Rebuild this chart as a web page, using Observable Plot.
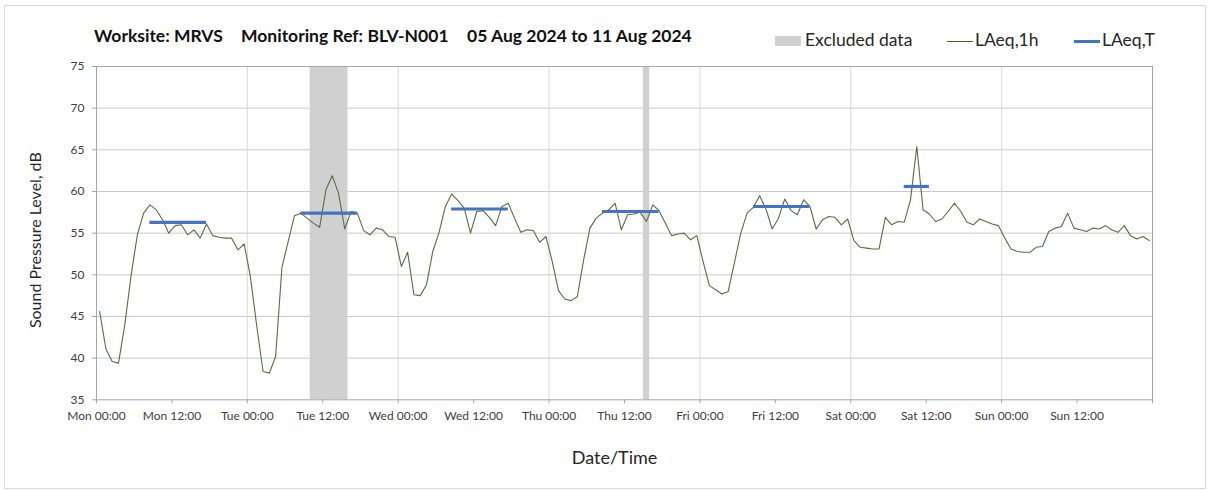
<!DOCTYPE html>
<html>
<head>
<meta charset="utf-8">
<script src="https://cdn.jsdelivr.net/npm/d3@7"></script>
<script src="https://cdn.jsdelivr.net/npm/@observablehq/plot@0.6"></script>
<style>
  body { margin: 0; background: #fff; }
  #wrap { position: relative; width: 1208px; height: 490px; overflow: hidden; font-family: Lato, "Open Sans", sans-serif; }
  #border { position: absolute; left: 4px; top: 5px; width: 1202px; height: 484px; border: 1px solid #d9d9d9; box-sizing: border-box; pointer-events: none; }
  #header { position: relative; height: 52px; }
  .t { position: absolute; top: 25px; line-height: 22px; font-size: 17.5px; font-weight: bold; color: #111; white-space: nowrap; }
  .lg { position: absolute; top: 29px; line-height: 22px; font-size: 17.5px; color: #262626; white-space: nowrap; }
  .sw { position: absolute; }
  #chart svg { overflow: visible; }
</style>
</head>
<body>
<div id="wrap">
  <div id="header"></div>
  <div id="chart"></div>
  <div id="border"></div>
</div>
<script>
// ---- Data ----
const titleParts = ["Worksite: MRVS", "Monitoring Ref: BLV-N001", "05 Aug 2024 to 11 Aug 2024"];
const legendLabels = ["Excluded data", "LAeq,1h", "LAeq,T"];
const xLabel = "Date/Time";
const yLabel = "Sound Pressure Level, dB";

// hourly LAeq,1h values (Mon 05 Aug 00:00 ... Sun 11 Aug 23:00)
const mon = [45.6, 41.1, 39.6, 39.4, 44.0, 49.9, 54.8, 57.4, 58.4, 57.8, 56.6, 55.0, 55.9, 56.0, 54.8, 55.4, 54.4, 56.1, 54.7, 54.5, 54.4, 54.4, 53.0, 53.7];
const tue = [49.7, 43.8, 38.4, 38.2, 40.2, 50.9, 54.0, 57.1, 57.4, 56.8, 56.2, 55.7, 60.2, 61.9, 59.8, 55.5, 57.6, 57.4, 55.3, 54.8, 55.6, 55.4, 54.6, 54.5];
const wed = [51.0, 52.7, 47.6, 47.5, 48.8, 52.8, 55.1, 58.2, 59.7, 58.9, 58.0, 55.0, 57.6, 57.7, 56.9, 55.9, 58.2, 58.6, 56.8, 55.1, 55.4, 55.3, 53.9, 54.6];
const thu = [51.6, 48.1, 47.1, 46.9, 47.4, 51.8, 55.6, 56.8, 57.4, 57.8, 58.6, 55.4, 57.2, 57.3, 57.5, 56.4, 58.4, 57.7, 56.2, 54.7, 54.9, 55.0, 54.2, 54.7];
const fri = [51.6, 48.7, 48.2, 47.7, 48.0, 51.5, 55.0, 57.4, 58.1, 59.5, 57.9, 55.5, 56.8, 59.1, 57.7, 57.2, 59.0, 58.2, 55.5, 56.6, 57.0, 56.9, 56.0, 56.7];
const sat = [54.1, 53.3, 53.2, 53.1, 53.1, 56.9, 56.0, 56.4, 56.3, 59.0, 65.4, 57.8, 57.3, 56.4, 56.7, 57.6, 58.6, 57.6, 56.3, 56.0, 56.7, 56.4, 56.1, 55.9];
const sun = [54.4, 53.1, 52.8, 52.7, 52.7, 53.3, 53.4, 55.2, 55.6, 55.8, 57.4, 55.6, 55.4, 55.2, 55.6, 55.5, 55.9, 55.4, 55.1, 55.9, 54.7, 54.3, 54.6, 54.1];

// excluded data periods
const excludedFrom = ["2024-08-06T10:00Z", "2024-08-08T15:00Z"];
const excludedTo   = ["2024-08-06T16:00Z", "2024-08-08T16:00Z"];

// LAeq,T periods and values
const periodFrom = ["2024-08-05T08:00Z", "2024-08-06T08:00Z", "2024-08-07T08:00Z", "2024-08-08T08:00Z", "2024-08-09T08:00Z", "2024-08-10T08:00Z"];
const periodTo   = ["2024-08-05T18:00Z", "2024-08-06T18:00Z", "2024-08-07T18:00Z", "2024-08-08T18:00Z", "2024-08-09T18:00Z", "2024-08-10T13:00Z"];
const laeqT      = [56.3, 57.4, 57.9, 57.6, 58.2, 60.6];

// axes
const xStart = "2024-08-05T00:00Z";
const xEnd = "2024-08-12T00:00Z";
const xTickLabels = ["Mon 00:00", "Mon 12:00", "Tue 00:00", "Tue 12:00", "Wed 00:00", "Wed 12:00", "Thu 00:00", "Thu 12:00", "Fri 00:00", "Fri 12:00", "Sat 00:00", "Sat 12:00", "Sun 00:00", "Sun 12:00", ""];
const yTicks = [35, 40, 45, 50, 55, 60, 65, 70, 75];

// ---- Build ----
const H = 3600e3;
const t0 = new Date(xStart).getTime();
const hourly = [...mon, ...tue, ...wed, ...thu, ...fri, ...sat, ...sun].map((v, i) => ({ t: new Date(t0 + i * H + H / 2), v }));
const excluded = excludedFrom.map((d, i) => ({ a: new Date(d), b: new Date(excludedTo[i]) }));
const periods = periodFrom.map((d, i) => ({ a: new Date(new Date(d).getTime() + H / 2), b: new Date(new Date(periodTo[i]).getTime() - H / 2), v: laeqT[i] }));
const xTicks = xTickLabels.map((_, i) => new Date(t0 + i * 12 * H));
const labelOf = new Map(xTicks.map((d, i) => [d.getTime(), xTickLabels[i]]));
const dayGrid = xTicks.filter((d, i) => i % 2 === 0 && i > 0 && i < xTicks.length - 1);

// header
const header = document.getElementById("header");
const titleX = [94, 241, 467];
titleParts.forEach((s, i) => {
  const el = document.createElement("div");
  el.className = "t"; el.style.left = titleX[i] + "px"; el.textContent = s;
  header.appendChild(el);
});
const swatches = [
  { left: 775, top: 36, w: 26, h: 10, bg: "#d0d0d0" },
  { left: 947, top: 41, w: 26, h: 1, bg: "#4F6228" },
  { left: 1074, top: 40, w: 26, h: 3, bg: "#4472C4" }
];
const legendX = [805, 975, 1102];
legendLabels.forEach((s, i) => {
  const sw = swatches[i];
  const d = document.createElement("div");
  d.className = "sw";
  Object.assign(d.style, { left: sw.left + "px", top: sw.top + "px", width: sw.w + "px", height: sw.h + "px", background: sw.bg });
  header.appendChild(d);
  const el = document.createElement("div");
  el.className = "lg"; el.style.left = legendX[i] + "px"; el.textContent = s;
  header.appendChild(el);
});

const chart = Plot.plot({
  width: 1208,
  height: 438,
  marginLeft: 96,
  marginRight: 56,
  marginTop: 14,
  marginBottom: 90.7,
  style: { fontFamily: "Lato, 'Open Sans', sans-serif", background: "transparent", overflow: "visible" },
  x: { type: "utc", domain: [new Date(xStart), new Date(xEnd)] },
  y: { domain: [35, 75] },
  marks: [
    Plot.gridY(yTicks.slice(1, -1), { stroke: "#c9c9c9", strokeOpacity: 1 }),
    Plot.gridX(dayGrid, { stroke: "#d9d9d9", strokeOpacity: 1 }),
    Plot.rect(excluded, { x1: "a", x2: "b", fill: "#d0d0d0" }),
    Plot.frame({ stroke: "#a6a6a6" }),
    Plot.axisY(yTicks, { tickSize: 4, tickPadding: 8, stroke: "#a6a6a6", fill: "#404040", fontSize: 12, label: null }),
    Plot.axisX(xTicks, { tickSize: 4, tickPadding: 8, stroke: "#a6a6a6", fill: "#404040", fontSize: 12, label: null, tickFormat: d => labelOf.get(d.getTime()) ?? "" }),
    Plot.line(hourly, { x: "t", y: "v", stroke: "#566f3e", strokeWidth: 1.1 }),
    Plot.ruleY(periods, { x1: "a", x2: "b", y: "v", stroke: "#4472C4", strokeWidth: 3.2 }),
    Plot.text([xLabel], { frameAnchor: "bottom", dx: -10, dy: 64, fontSize: 18, fill: "#262626" }),
    Plot.text([yLabel], { frameAnchor: "left", textAnchor: "middle", rotate: -90, dx: -61, dy: 7, fontSize: 16, fill: "#262626" })
  ]
});
document.getElementById("chart").appendChild(chart);
</script>
</body>
</html>
